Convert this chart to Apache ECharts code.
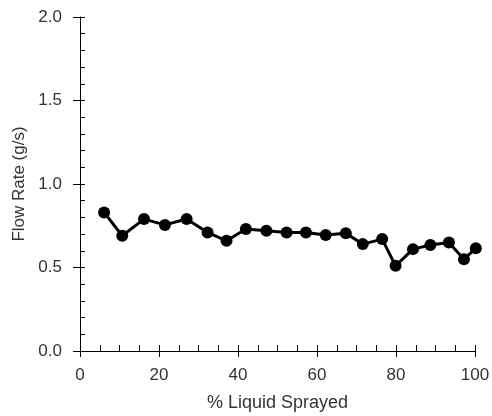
<!DOCTYPE html>
<html><head><meta charset="utf-8">
<script src="https://cdn.jsdelivr.net/npm/echarts@6/dist/echarts.min.js"></script>
<style>html,body{margin:0;padding:0;background:#fff}#c{width:492px;height:416px}</style>
</head><body><div id="c"></div>
<script>
var pctSprayed = [6.1, 10.7, 16.2, 21.5, 27.0, 32.3, 37.1, 42.0, 47.2, 52.3, 57.2, 62.2, 67.3, 71.6, 76.5, 79.9, 84.3, 88.7, 93.4, 97.2, 100.2];
var flowRate   = [0.83, 0.69, 0.79, 0.755, 0.79, 0.71, 0.66, 0.73, 0.72, 0.71, 0.71, 0.695, 0.705, 0.64, 0.67, 0.51, 0.61, 0.635, 0.65, 0.55, 0.615];
var xTitle = '% Liquid Sprayed';
var yTitle = 'Flow Rate (g/s)';

var font = 'Liberation Sans, Arial, sans-serif';
var txt = '#333';
var data = pctSprayed.map(function(x,i){return [x, flowRate[i]];});
var chart = echarts.init(document.getElementById('c'));
var axisLine = {show:true, onZero:false, lineStyle:{color:'#000', width:1}};
chart.setOption({
  animation:false,
  grid:{left:80, right:17, top:17, bottom:65, containLabel:false, outerBoundsMode:'none'},
  xAxis:[{
    type:'value', min:0, max:100, interval:20, position:'bottom',
    axisLine:axisLine,
    axisTick:{show:true, inside:false, length:6, lineStyle:{color:'#000'}},
    splitLine:{show:false},
    axisLabel:{color:txt, fontFamily:font, fontSize:17, margin:16},
    name:xTitle, nameLocation:'middle', nameGap:43,
    nameTextStyle:{color:txt, fontFamily:font, fontSize:18}
  },{
    type:'value', min:0, max:100, interval:20, position:'bottom',
    axisLine:{show:false},
    axisTick:{show:true, inside:true, length:6, lineStyle:{color:'#000'}},
    minorTick:{show:true, splitNumber:4, length:6, lineStyle:{color:'#000'}},
    axisLabel:{show:false}, splitLine:{show:false}
  }],
  yAxis:[{
    type:'value', min:0, max:2, interval:0.5, position:'left',
    axisLine:axisLine,
    axisTick:{show:true, inside:false, length:7, lineStyle:{color:'#000'}},
    splitLine:{show:false},
    axisLabel:{color:txt, fontFamily:font, fontSize:17, margin:18,
      formatter:function(v){return v.toFixed(1);}},
    name:yTitle, nameLocation:'middle', nameGap:52,
    nameTextStyle:{color:txt, fontFamily:font, fontSize:17}
  },{
    type:'value', min:0, max:2, interval:0.5, position:'left',
    axisLine:{show:false},
    axisTick:{show:true, inside:true, length:5, lineStyle:{color:'#000'}},
    minorTick:{show:true, splitNumber:5, length:5, lineStyle:{color:'#000'}},
    axisLabel:{show:false}, splitLine:{show:false}
  }],
  series:[{
    type:'line', data:data, xAxisIndex:0, yAxisIndex:0, clip:false,
    symbol:'circle', symbolSize:12,
    lineStyle:{color:'#000', width:3},
    itemStyle:{color:'#000'}
  }]
});
</script></body></html>
